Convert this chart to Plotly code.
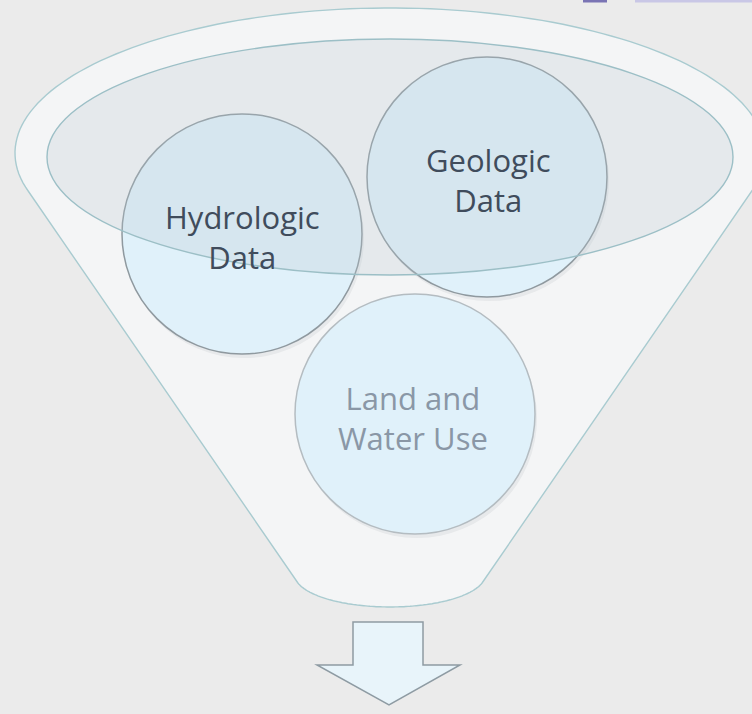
import numpy as np
import plotly.graph_objects as go

# items poured into the funnel
labels = ["Hydrologic<br>Data", "Geologic<br>Data", "Land and<br>Water Use"]

W, H = 752, 714

# diagram geometry (pixel space, y down)
circle_xy = [(242, 234), (487, 177), (415, 414)]
circle_r = 120
text_xy = [(242, 237), (488, 180), (413, 418)]
text_colors = ["#404c5c", "#404c5c", "#8a97a6"]
edge_colors = ["#8f999f", "#8f999f", "#b4bcc1"]

fig = go.Figure()


def arc(cx, cy, rx, ry, t0, t1, n=120):
    t = np.radians(np.linspace(t0, t1, n))
    return cx + rx * np.cos(t), cy - ry * np.sin(t)


def to_path(xs, ys):
    pts = " L ".join(f"{x:.1f},{y:.1f}" for x, y in zip(xs, ys))
    return "M " + pts + " Z"


# outer funnel: top rim + straight sides + rounded bottom
tx, ty = arc(390, 153, 375, 145, 195.4, -15.4)
bx, by = arc(390, 575, 95, 32, -13.5, -166.5)
fx = np.concatenate([tx, bx])
fy = np.concatenate([ty, by])
fig.add_shape(type="path", path=to_path(fx, fy),
              fillcolor="#f4f5f6", line=dict(color="#a9cbd0", width=1.4))

# circles with a soft shadow
for (cx, cy), ec in zip(circle_xy, edge_colors):
    fig.add_shape(type="circle", x0=cx - circle_r + 2, x1=cx + circle_r + 2,
                  y0=cy - circle_r + 4, y1=cy + circle_r + 4,
                  fillcolor="rgba(120,130,140,0.10)", line=dict(width=0))
    fig.add_shape(type="circle", x0=cx - circle_r, x1=cx + circle_r,
                  y0=cy - circle_r, y1=cy + circle_r,
                  fillcolor="#e0f1fa", line=dict(color=ec, width=1.5))

# translucent rim ellipse lying over the circles
fig.add_shape(type="circle", x0=390 - 343, x1=390 + 343, y0=157 - 118, y1=157 + 118,
              fillcolor="rgba(185,198,208,0.25)", line=dict(color="#9cbfc6", width=1.4))

# down arrow
ax = [353, 423, 423, 460, 389, 317, 353]
ay = [622, 622, 665, 665, 705, 665, 665]
fig.add_shape(type="path", path=to_path(ax, ay),
              fillcolor="#e8f4fa", line=dict(color="#8e9ba3", width=1.5))

# small purple strip at the top right edge
fig.add_shape(type="rect", x0=583, x1=607, y0=0, y1=2.5,
              fillcolor="#7a74b4", line=dict(width=0))
fig.add_shape(type="rect", x0=635, x1=752, y0=0, y1=2.5,
              fillcolor="#c9c7e6", line=dict(width=0))

for lab, (x, y), c in zip(labels, text_xy, text_colors):
    fig.add_annotation(x=x, y=y, text=lab, showarrow=False,
                       font=dict(family="Open Sans", size=31, color=c),
                       xanchor="center", yanchor="middle")

fig.update_xaxes(range=[0, W], visible=False, fixedrange=True)
fig.update_yaxes(range=[H, 0], visible=False, fixedrange=True)
fig.update_layout(width=W, height=H, margin=dict(l=0, r=0, t=0, b=0),
                  paper_bgcolor="#ebebeb", plot_bgcolor="#ebebeb",
                  showlegend=False)

fig.write_html("out.html", config={"displayModeBar": False},
               post_script="document.body.style.margin='0';")
